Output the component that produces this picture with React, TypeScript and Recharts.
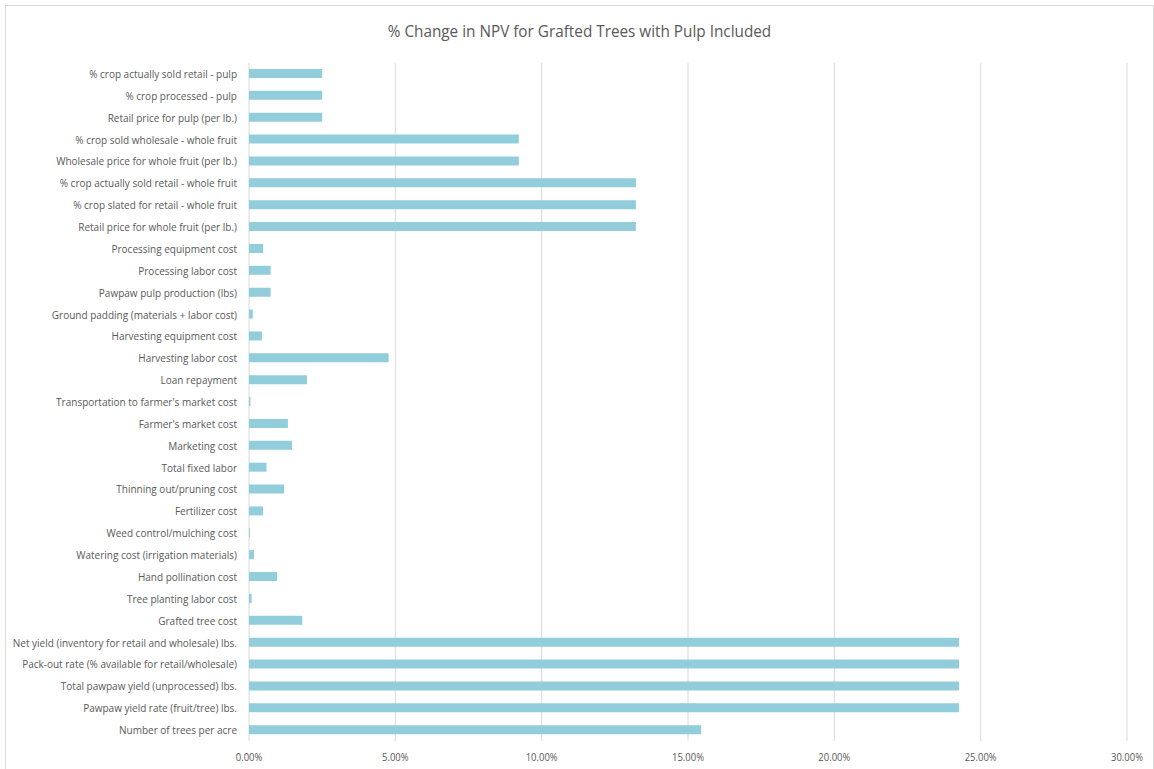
import { BarChart, Bar, XAxis, YAxis, CartesianGrid } from 'recharts'

// factors listed top to bottom as in the chart
const factors = [
  '% crop actually sold retail - pulp',
  '% crop processed - pulp',
  'Retail price for pulp (per lb.)',
  '% crop sold wholesale - whole fruit',
  'Wholesale price for whole fruit (per lb.)',
  '% crop actually sold retail - whole fruit',
  '% crop slated for retail - whole fruit',
  'Retail price for whole fruit (per lb.)',
  'Processing equipment cost',
  'Processing labor cost',
  'Pawpaw pulp production (lbs)',
  'Ground padding (materials + labor cost)',
  'Harvesting equipment cost',
  'Harvesting labor cost',
  'Loan repayment',
  "Transportation to farmer's market cost",
  "Farmer's market cost",
  'Marketing cost',
  'Total fixed labor',
  'Thinning out/pruning cost',
  'Fertilizer cost',
  'Weed control/mulching cost',
  'Watering cost (irrigation materials)',
  'Hand pollination cost',
  'Tree planting labor cost',
  'Grafted tree cost',
  'Net yield (inventory for retail and wholesale) lbs.',
  'Pack-out rate (% available for retail/wholesale)',
  'Total pawpaw yield (unprocessed) lbs.',
  'Pawpaw yield rate (fruit/tree) lbs.',
  'Number of trees per acre',
]

// % change in NPV
const pctChange = [
  2.5, 2.5, 2.5, 9.22, 9.22, 13.22, 13.22, 13.22,
  0.48, 0.74, 0.74, 0.13, 0.44, 4.77, 1.98, 0.05,
  1.33, 1.47, 0.6, 1.2, 0.48, 0.03, 0.17, 0.96,
  0.09, 1.82, 24.26, 24.26, 24.26, 24.26, 15.45,
]

const xTicks = [0, 5, 10, 15, 20, 25, 30]

const data = factors.map((name, i) => ({ name, value: pctChange[i] }))

const font = '"Open Sans", sans-serif'

// narrow-ish labels, one line each (Excel uses Calibri here)
const CategoryTick = ({ x, y, payload }: any) => (
  <g transform={`translate(${x - 4},${y}) scale(0.91,1)`}>
    <text textAnchor="end" dy={4} fill="#595959" fontSize={11} fontFamily={font}>{payload.value}</text>
  </g>
)

const PctTick = ({ x, y, payload }: any) => (
  <g transform={`translate(${x},${y}) scale(0.86,1)`}>
    <text textAnchor="middle" dy={12} fill="#595959" fontSize={11} fontFamily={font}>{payload.value.toFixed(2)}%</text>
  </g>
)

export default function App() {
  return (
    <div style={{ position: 'absolute', left: 5, top: 5, width: 1147, height: 780, border: '1px solid #d9d9d9', background: '#fff', fontFamily: font }}>
      <div style={{ position: 'absolute', top: 13, width: '100%', textAlign: 'center', fontSize: 17, color: '#595959', transform: 'scaleX(0.9)' }}>
        % Change in NPV for Grafted Trees with Pulp Included
      </div>
      <BarChart width={1147} height={760} data={data} layout="vertical"
        margin={{ top: 57, right: 26, bottom: 0, left: 0 }} barSize={9}>
        <CartesianGrid stroke="#d9d9d9" horizontal={false} />
        <XAxis type="number" domain={[0, 30]} ticks={xTicks} axisLine={false} tickLine={false}
          height={25} tick={<PctTick />} />
        <YAxis type="category" dataKey="name" width={243} axisLine={false} tickLine={false} interval={0}
          tick={<CategoryTick />} />
        <Bar dataKey="value" fill="#92cddc" isAnimationActive={false} />
      </BarChart>
    </div>
  )
}
